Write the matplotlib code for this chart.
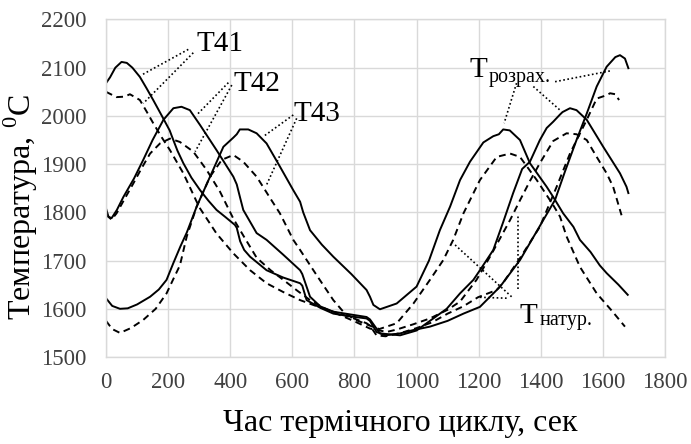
import numpy as np
import matplotlib
matplotlib.use("Agg")
import matplotlib.pyplot as plt

plt.rcParams['font.family'] = ['Liberation Serif', 'DejaVu Serif']
plt.rcParams['mathtext.fontset'] = 'custom'
plt.rcParams['mathtext.rm'] = 'Liberation Serif'

# T41 - розрахункова (суцільна) та натурна (пунктир)
t41_calc_t = [0, 13, 30, 50, 67, 85, 109, 130, 152, 180, 205, 212, 230, 249, 275, 303, 330, 356, 385, 415, 421, 432, 445,
              464, 517, 570, 625, 632, 646, 690, 732, 790, 839, 850, 871, 900, 947, 990, 1043, 1100, 1151, 1204, 1269,
              1333, 1408, 1446, 1478, 1515, 1548, 1580, 1612, 1640, 1655, 1671, 1682]
t41_calc = [2068, 2080, 2100, 2112, 2110, 2100, 2081, 2058, 2033, 2000, 1970, 1958, 1928, 1902, 1872, 1846, 1824, 1805,
            1790, 1774, 1768, 1740, 1722, 1708, 1680, 1665, 1653, 1648, 1618, 1602, 1590, 1584, 1580, 1575, 1552, 1545,
            1549, 1556, 1563, 1575, 1590, 1604, 1646, 1701, 1784, 1826, 1885, 1950, 2005, 2061, 2102, 2122, 2126, 2119,
            2099]
t41_nat_t = [0, 34, 60, 77, 109, 130, 152, 180, 206, 249, 292, 303, 356, 410, 464, 517, 570, 625, 680, 732, 790, 839,
             850, 871, 900, 950, 1000, 1050, 1100, 1150, 1198, 1258, 1280, 1333, 1397, 1451, 1494, 1548, 1580, 1612,
             1623, 1640, 1652]
t41_nat = [2050, 2039, 2040, 2045, 2033, 2010, 1985, 1955, 1929, 1881, 1822, 1808, 1756, 1715, 1680, 1653, 1635, 1618,
           1605, 1594, 1582, 1570, 1565, 1545, 1543, 1550, 1560, 1572, 1590, 1605, 1624, 1639, 1655, 1705, 1770, 1853,
           1922, 1992, 2036, 2043, 2047, 2045, 2033]

# T42
t42_calc_t = [0, 8, 18, 35, 56, 90, 120, 150, 185, 217, 243, 270, 303, 356, 410, 421, 432, 442, 485, 517, 571, 625, 632,
              657, 690, 732, 790, 839, 850, 882, 947, 1000, 1043, 1097, 1140, 1183, 1204, 1247, 1279, 1311, 1340, 1365,
              1397, 1419, 1440, 1462, 1470, 1494, 1515, 1548, 1601, 1655, 1676, 1682]
t42_calc = [1808, 1791, 1788, 1805, 1832, 1870, 1909, 1950, 1992, 2016, 2019, 2012, 1981, 1929, 1874, 1858, 1830, 1805,
            1757, 1743, 1712, 1680, 1672, 1625, 1605, 1594, 1588, 1583, 1578, 1549, 1545, 1555, 1575, 1600, 1632, 1660,
            1680, 1722, 1780, 1840, 1890, 1905, 1950, 1975, 1988, 2003, 2008, 2016, 2012, 1992, 1936, 1881, 1853, 1840]
t42_nat_t = [0, 18, 34, 60, 88, 115, 142, 174, 206, 238, 281, 324, 367, 410, 442, 485, 530, 571, 615, 657, 700, 754,
             800, 850, 904, 936, 990, 1043, 1100, 1140, 1193, 1240, 1301, 1333, 1365, 1397, 1440, 1483, 1515, 1548,
             1580, 1612, 1633, 1660]
t42_nat = [1795, 1785, 1798, 1828, 1860, 1892, 1922, 1943, 1953, 1946, 1926, 1888, 1843, 1787, 1752, 1706, 1680, 1660,
           1638, 1618, 1602, 1587, 1574, 1559, 1552, 1557, 1568, 1580, 1598, 1615, 1660, 1712, 1784, 1825, 1865, 1902,
           1948, 1964, 1962, 1950, 1915, 1881, 1853, 1794]

# T43
t43_calc_t = [0, 20, 45, 70, 100, 142, 170, 195, 217, 240, 260, 292, 335, 378, 410, 421, 431, 458, 485, 517, 560, 603,
              625, 635, 657, 695, 732, 790, 839, 850, 861, 882, 936, 1000, 1040, 1075, 1108, 1140, 1172, 1215, 1247,
              1265, 1279, 1300, 1333, 1365, 1419, 1440, 1472, 1505, 1526, 1560, 1590, 1612, 1650, 1680]
t43_calc = [1622, 1606, 1600, 1601, 1609, 1625, 1640, 1660, 1695, 1730, 1758, 1812, 1874, 1936, 1955, 1962, 1972, 1972,
            1964, 1943, 1895, 1846, 1822, 1800, 1763, 1733, 1708, 1672, 1639, 1625, 1608, 1599, 1611, 1646, 1700, 1763,
            1812, 1867, 1905, 1945, 1958, 1962, 1972, 1970, 1950, 1902, 1853, 1832, 1798, 1770, 1743, 1718, 1690, 1674,
            1650, 1629]
t43_nat_t = [0, 20, 45, 80, 120, 160, 195, 217, 238, 260, 292, 335, 373, 410, 442, 485, 533, 560, 603, 625, 680, 732,
             764, 800, 850, 880, 936, 990, 1043, 1086, 1118, 1151, 1204, 1258, 1301, 1333, 1387, 1440, 1462, 1483, 1526,
             1580, 1630, 1671]
t43_nat = [1575, 1558, 1550, 1560, 1577, 1600, 1632, 1662, 1690, 1750, 1812, 1874, 1909, 1919, 1905, 1874, 1825, 1798,
           1743, 1722, 1668, 1618, 1594, 1578, 1565, 1558, 1570, 1611, 1660, 1701, 1743, 1798, 1867, 1915, 1922, 1915,
           1867, 1815, 1791, 1750, 1687, 1632, 1595, 1563]

x_ticks = [0, 200, 400, 600, 800, 1000, 1200, 1400, 1600, 1800]
y_ticks = [1500, 1600, 1700, 1800, 1900, 2000, 2100, 2200]

fig = plt.figure(figsize=(6.91, 4.44), dpi=100)
ax = fig.add_axes([0.1534, 0.1959, 0.8090, 0.7602])

solid = dict(color='black', lw=1.4, solid_joinstyle='round')
dashed = dict(color='black', lw=1.4, linestyle=(0, (3.5, 2.4)))

ax.plot(t41_calc_t, t41_calc, **solid)
ax.plot(t42_calc_t, t42_calc, **solid)
ax.plot(t43_calc_t, t43_calc, **solid)
ax.plot(t41_nat_t, t41_nat, **dashed)
ax.plot(t42_nat_t, t42_nat, **dashed)
ax.plot(t43_nat_t, t43_nat, **dashed)

ax.set_xlim(0, 1800)
ax.set_ylim(1500, 2200)
ax.set_xticks(x_ticks)
ax.set_yticks(y_ticks)
ax.grid(True, color='#d9d9d9', lw=1.0)
ax.set_axisbelow(True)
for s in ax.spines.values():
    s.set_color('#d9d9d9')
    s.set_linewidth(1.0)
ax.tick_params(length=0, labelsize=16.5, labelcolor='#404040')
ax.tick_params(axis='y', pad=14)
ax.tick_params(axis='x', pad=11)

ax.set_xlabel('Час термічного циклу, сек', fontsize=23)
ax.set_ylabel('Температура, $^{0}$C', fontsize=23)
ax.xaxis.set_label_coords(0.526, -0.155)
ax.yaxis.set_label_coords(-0.118, 0.445)

# підписи з пунктирними виносками
dot = dict(color='black', lw=1.2, linestyle=(0, (1, 1.5)))
leaders = [
    ((265, 2138), (115, 2085)), ((281, 2131), (120, 2026)),
    ((394, 2069), (292, 2002)), ((405, 2064), (287, 1926)),
    ((603, 2002), (506, 1957)), ((614, 1995), (517, 1857)),
    ((1322, 2068), (1282, 1985)), ((1376, 2061), (1462, 2012)), ((1446, 2071), (1628, 2094)),
    ((1306, 1625), (1118, 1736)), ((1290, 1622), (1199, 1624)), ((1327, 1642), (1327, 1794)),
]
for (x0, y0), (x1, y1) in leaders:
    ax.plot([x0, x1], [y0, y1], **dot)

ax.text(293, 2135, 'T41', fontsize=21, va='baseline')
ax.text(410, 2052, 'T42', fontsize=21, va='baseline')
ax.text(603, 1990, 'T43', fontsize=21, va='baseline')
ax.text(1172, 2081, 'T', fontsize=21, va='baseline')
ax.text(1231, 2070, 'розрах.', fontsize=14.5, va='baseline')
ax.text(1333, 1571, 'T', fontsize=21, va='baseline')
ax.text(1397, 1567, 'натур.', fontsize=14.5, va='baseline')

fig.savefig('out.png', dpi=100)
